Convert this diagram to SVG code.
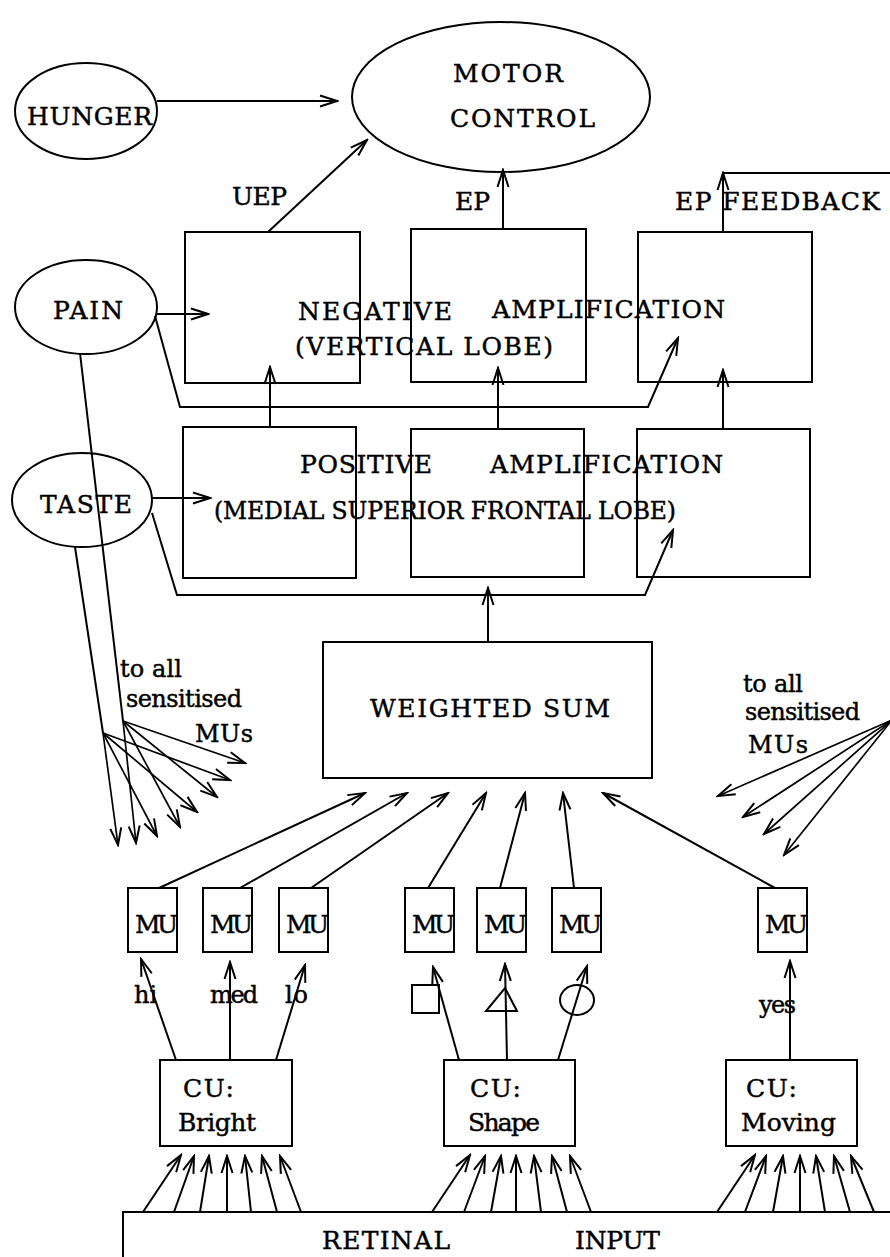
<svg xmlns="http://www.w3.org/2000/svg" width="890" height="1257" viewBox="0 0 890 1257">
<style>
.s{fill:none;stroke:#000;stroke-width:2}
.c{fill:none;stroke:#000;stroke-width:2;marker-end:url(#ah)}
.f{fill:none;stroke:#000;stroke-width:1.7;marker-end:url(#ah)}
.l{fill:none;stroke:#000;stroke-width:2}
text{font-family:"DejaVu Serif","Liberation Serif",serif;font-size:25px;fill:#000;stroke:#000;stroke-width:0.45}
.lc{font-size:24px}
.sm{font-size:23.5px}
</style>
<defs>
<marker id="ah" viewBox="-19 -7 21 14" refX="0" refY="0" markerWidth="21" markerHeight="14" orient="auto" markerUnits="userSpaceOnUse">
<path d="M-17,-5.5 L0,0 L-17,5.5" fill="none" stroke="#000" stroke-width="2"/>
</marker>
</defs>
<rect width="890" height="1257" fill="#fff"/>

<g id="motor-control"><ellipse class="s" cx="501" cy="97" rx="149" ry="75"/>
<text x="453" y="82" textLength="110" lengthAdjust="spacing">MOTOR</text>
<text x="450" y="127" textLength="145" lengthAdjust="spacing">CONTROL</text></g>
<g id="hunger"><ellipse class="s" cx="86" cy="111" rx="71" ry="48"/>
<text x="27" y="125" textLength="125" lengthAdjust="spacing">HUNGER</text></g>
<g id="pain"><ellipse class="s" cx="86" cy="307" rx="71" ry="47"/>
<text x="53" y="319" textLength="70" lengthAdjust="spacing">PAIN</text></g>
<g id="taste"><ellipse class="s" cx="82" cy="500" rx="70" ry="47"/>
<text x="40" y="513" textLength="92" lengthAdjust="spacing">TASTE</text></g>

<g id="negative">
<rect class="s" x="185" y="232" width="175" height="151"/>
<rect class="s" x="411" y="229" width="175" height="153"/>
<rect class="s" x="638" y="232" width="174" height="150"/>
<text x="298" y="320" textLength="154" lengthAdjust="spacing">NEGATIVE</text>
<text x="492" y="318" textLength="233" lengthAdjust="spacing">AMPLIFICATION</text>
<text x="295" y="355" textLength="258" lengthAdjust="spacing">(VERTICAL LOBE)</text>
</g>
<g id="positive">
<rect class="s" x="183" y="427" width="173" height="151"/>
<rect class="s" x="411" y="429" width="173" height="148"/>
<rect class="s" x="637" y="429" width="173" height="148"/>
<text x="300" y="473" textLength="132" lengthAdjust="spacing">POSITIVE</text>
<text x="490" y="473" textLength="233" lengthAdjust="spacing">AMPLIFICATION</text>
<text class="sm" x="214" y="519" textLength="462" lengthAdjust="spacing">(MEDIAL SUPERIOR FRONTAL LOBE)</text>
</g>
<g id="weighted-sum"><rect class="s" x="323" y="642" width="329" height="136"/>
<text x="370" y="717" textLength="240" lengthAdjust="spacing">WEIGHTED SUM</text></g>

<g id="mu-units">
<rect class="s" x="128" y="888" width="49" height="64"/><text x="135" y="933" textLength="43" lengthAdjust="spacing">MU</text>
<rect class="s" x="203" y="888" width="49" height="64"/><text x="210" y="933" textLength="43" lengthAdjust="spacing">MU</text>
<rect class="s" x="279" y="888" width="49" height="64"/><text x="286" y="933" textLength="43" lengthAdjust="spacing">MU</text>
<rect class="s" x="405" y="888" width="49" height="64"/><text x="412" y="933" textLength="43" lengthAdjust="spacing">MU</text>
<rect class="s" x="477" y="888" width="49" height="64"/><text x="484" y="933" textLength="43" lengthAdjust="spacing">MU</text>
<rect class="s" x="552" y="888" width="49" height="64"/><text x="559" y="933" textLength="43" lengthAdjust="spacing">MU</text>
<rect class="s" x="758" y="888" width="49" height="64"/><text x="765" y="933" textLength="43" lengthAdjust="spacing">MU</text>
</g>

<g id="cu-bright"><rect class="s" x="160" y="1060" width="132" height="86"/>
<text x="183" y="1097" textLength="51" lengthAdjust="spacing">CU:</text>
<text x="178" y="1131" textLength="78" lengthAdjust="spacing">Bright</text></g>
<g id="cu-shape"><rect class="s" x="444" y="1060" width="131" height="86"/>
<text x="470" y="1097" textLength="51" lengthAdjust="spacing">CU:</text>
<text x="468" y="1131" textLength="72" lengthAdjust="spacing">Shape</text></g>
<g id="cu-moving"><rect class="s" x="726" y="1060" width="131" height="86"/>
<text x="746" y="1097" textLength="51" lengthAdjust="spacing">CU:</text>
<text x="741" y="1131" textLength="95" lengthAdjust="spacing">Moving</text></g>

<g id="retinal-input"><path class="s" d="M123,1257 V1212 H892"/>
<text x="322" y="1249" textLength="128" lengthAdjust="spacing">RETINAL</text>
<text x="575" y="1249" textLength="85" lengthAdjust="spacing">INPUT</text></g>

<g id="labels">
<text x="232" y="205" textLength="55" lengthAdjust="spacing">UEP</text>
<text x="455" y="210" textLength="35" lengthAdjust="spacing">EP</text>
<text x="675" y="210" textLength="205" lengthAdjust="spacing">EP FEEDBACK</text>
<text class="lc" x="120" y="677" textLength="62" lengthAdjust="spacing">to all</text>
<text class="lc" x="126" y="707" textLength="116" lengthAdjust="spacing">sensitised</text>
<text class="lc" x="195" y="742" textLength="58" lengthAdjust="spacing">MUs</text>
<text class="lc" x="743" y="692" textLength="60" lengthAdjust="spacing">to all</text>
<text class="lc" x="745" y="720" textLength="115" lengthAdjust="spacing">sensitised</text>
<text class="lc" x="748" y="753" textLength="60" lengthAdjust="spacing">MUs</text>
<text class="lc" x="134" y="1003">hi</text>
<text class="lc" x="210" y="1003" textLength="48" lengthAdjust="spacing">med</text>
<text class="lc" x="285" y="1003" textLength="23" lengthAdjust="spacing">lo</text>
<text class="lc" x="759" y="1013" textLength="37" lengthAdjust="spacing">yes</text>
</g>

<g id="shape-symbols">
<rect class="s" x="412" y="985" width="27" height="28"/>
<path class="s" d="M505,988 L517,1011 L486,1011 Z"/>
<ellipse class="s" cx="577" cy="1000" rx="17" ry="15"/>
</g>

<g id="connectors">
<path class="c" d="M157,101 H337"/>
<path class="c" d="M268,232 L367,140"/>
<path class="c" d="M503,229 V170"/>
<path class="c" d="M723,232 V173"/>
<path class="l" d="M723,173 H892"/>
<path class="c" d="M157,314 H208"/>
<path class="c" d="M152,498 H210"/>
<path class="c" d="M270,427 V367"/>
<path class="c" d="M498,429 V368"/>
<path class="c" d="M723,429 V370"/>
<path class="c" d="M155,316 L180,407 H648 L678,338"/>
<path class="c" d="M152,513 L177,595 H645 L673,530"/>
<path class="c" d="M488,642 V588"/>

<path class="l" d="M75,547 L103,733"/>
<path class="l" d="M80,353 L123,721"/>
<path class="f" d="M103,733 L118,845"/>
<path class="f" d="M103,733 L157,836"/>
<path class="f" d="M103,733 L197,812"/>
<path class="f" d="M103,733 L230,780"/>
<path class="f" d="M123,721 L136,843"/>
<path class="f" d="M123,721 L180,827"/>
<path class="f" d="M123,721 L217,797"/>
<path class="f" d="M123,721 L245,763"/>

<path class="f" d="M892,720 L718,796"/>
<path class="f" d="M892,720 L743,817"/>
<path class="f" d="M892,720 L764,834"/>
<path class="f" d="M892,720 L784,855"/>

<path class="c" d="M159,888 L365,793"/>
<path class="c" d="M240,888 L407,793"/>
<path class="c" d="M311,888 L448,793"/>
<path class="c" d="M428,888 L486,793"/>
<path class="c" d="M500,888 L525,793"/>
<path class="c" d="M574,888 L563,793"/>
<path class="c" d="M775,888 L603,793"/>

<path class="c" d="M176,1060 L141,959"/>
<path class="c" d="M230,1060 V962"/>
<path class="c" d="M276,1060 L305,965"/>
<path class="c" d="M459,1060 L433,967"/>
<path class="c" d="M507,1060 L505,964"/>
<path class="c" d="M558,1060 L587,966"/>
<path class="c" d="M790,1060 V961"/>

<path class="c" d="M143,1212 L181,1155"/>
<path class="c" d="M174,1212 L194,1156"/>
<path class="c" d="M200,1212 L209,1156"/>
<path class="c" d="M227,1212 V1156"/>
<path class="c" d="M251,1212 L245,1156"/>
<path class="c" d="M277,1212 L262,1156"/>
<path class="c" d="M301,1212 L280,1156"/>

<path class="c" d="M432,1212 L470,1155"/>
<path class="c" d="M464,1212 L485,1156"/>
<path class="c" d="M491,1212 L501,1156"/>
<path class="c" d="M516,1212 V1156"/>
<path class="c" d="M541,1212 L534,1156"/>
<path class="c" d="M567,1212 L552,1156"/>
<path class="c" d="M591,1212 L570,1156"/>

<path class="c" d="M717,1212 L755,1155"/>
<path class="c" d="M745,1212 L766,1156"/>
<path class="c" d="M773,1212 L783,1156"/>
<path class="c" d="M800,1212 V1156"/>
<path class="c" d="M825,1212 L816,1156"/>
<path class="c" d="M850,1212 L834,1156"/>
<path class="c" d="M874,1212 L851,1156"/>
</g>
</svg>
